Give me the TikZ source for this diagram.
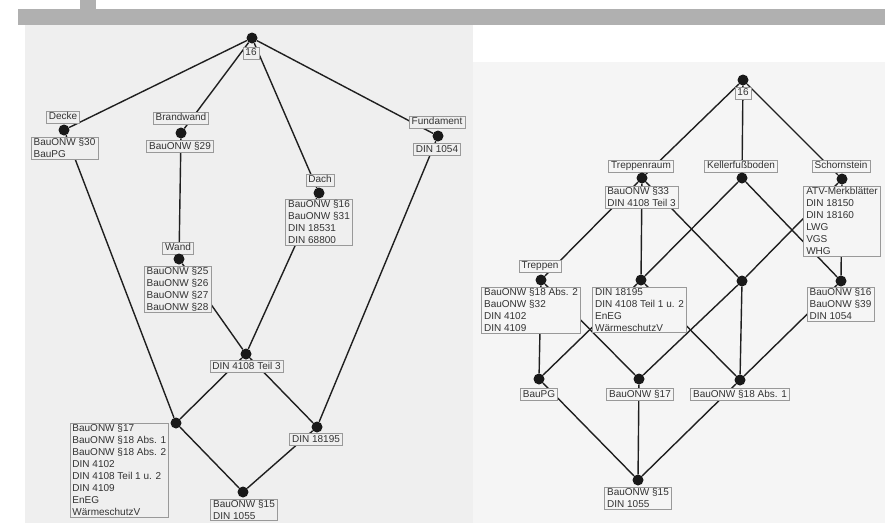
\documentclass[tikz,border=0pt]{standalone}
\usepackage{fontspec}
\setmainfont{Liberation Sans}
\definecolor{lpanel}{HTML}{EFEFEF}
\definecolor{rpanel}{HTML}{F5F5F5}
\definecolor{barc}{HTML}{B0B0B0}
\pgfdeclarelayer{panel}
\pgfdeclarelayer{edges}
\pgfsetlayers{panel,edges,main}
\begin{document}
\begin{tikzpicture}[x=1pt,y=-1pt,
  dot/.style={circle,fill=black!90,inner sep=0pt,minimum size=11pt},
  boxbase/.style={draw=black!40,line width=0.6pt,fill=#1,inner xsep=2.5pt,inner ysep=1.2pt,
    font=\fontsize{10}{12}\selectfont,text=black!80},
  boxbase/.default=lpanel,
  lab/.style={boxbase=#1,align=left},
  lab/.default=lpanel,
  lab1/.style={boxbase=#1,text height=7.5pt,text depth=2.2pt},
  lab1/.default=lpanel,
  conn/.style={line width=1.4pt,draw=black!88}]
\useasboundingbox (0,0) rectangle (885,523);
\begin{pgfonlayer}{panel}
\fill[barc] (18,9) rectangle (885,25);
\fill[barc] (80,0) rectangle (96,9);
\fill[lpanel] (25,25) rectangle (473,523);
\fill[rpanel] (473,62) rectangle (885,523);
\end{pgfonlayer}

% ---------- left lattice ----------
\node[dot] (Ltop) at (252,38) {};
\node[lab1] (L16) at (251,53) {16};
\node[lab1] (LDeckeL) at (63,117) {Decke};
\node[dot] (LDecke) at (64,130) {};
\node[lab,anchor=north] (LDeckeO) at (64.5,137) {BauONW §30\\BauPG};
\node[lab1] (LBrandL) at (181,118) {Brandwand};
\node[dot] (LBrand) at (181,133) {};
\node[lab1,anchor=north] (LBrandO) at (180,140) {BauONW §29};
\node[lab1] (LFundL) at (437,122) {Fundament};
\node[dot] (LFund) at (438,136) {};
\node[lab1,anchor=north] (LFundO) at (437,143) {DIN 1054};
\node[lab1] (LDachL) at (320,180) {Dach};
\node[dot] (LDach) at (319,193) {};
\node[lab,anchor=north] (LDachO) at (319,199) {BauONW §16\\BauONW §31\\DIN 18531\\DIN 68800};
\node[lab1] (LWandL) at (178,248) {Wand};
\node[dot] (LWand) at (179,259) {};
\node[lab,anchor=north] (LWandO) at (177.5,266) {BauONW §25\\BauONW §26\\BauONW §27\\BauONW §28};
\node[dot] (LT3) at (246,354) {};
\node[lab1,anchor=north] (LT3O) at (246.5,360) {DIN 4108 Teil 3};
\node[dot] (LBL) at (176,423) {};
\node[lab,anchor=north east] (LBLO) at (169,423) {BauONW §17\\BauONW §18 Abs. 1\\BauONW §18 Abs. 2\\DIN 4102\\DIN 4108 Teil 1 u. 2\\DIN 4109\\EnEG\\WärmeschutzV};
\node[dot] (L18195) at (317,427) {};
\node[lab1,anchor=north] (L18195O) at (316,433) {DIN 18195};
\node[dot] (Lbot) at (243,492) {};
\node[lab,anchor=north] (LbotO) at (244,498.5) {BauONW §15\\DIN 1055};

% ---------- right lattice ----------
\node[dot] (Rtop) at (743,80) {};
\node[lab1=rpanel] (R16) at (743,93) {16};
\node[lab1=rpanel] (RTrL) at (641,166) {Treppenraum};
\node[dot] (RTr) at (642,178) {};
\node[lab=rpanel,anchor=north] (RTrO) at (641.5,186) {BauONW §33\\DIN 4108 Teil 3};
\node[lab1=rpanel] (RKeL) at (741,166) {Kellerfußboden};
\node[dot] (RKe) at (742,178) {};
\node[lab1=rpanel] (RSchL) at (841,166) {Schornstein};
\node[dot] (RSch) at (842,179) {};
\node[lab=rpanel,anchor=north] (RSchO) at (842,186) {ATV-Merkblätter\\DIN 18150\\DIN 18160\\LWG\\VGS\\WHG};
\node[lab1=rpanel] (RTpL) at (540,266) {Treppen};
\node[dot] (RTp) at (541,280) {};
\node[lab=rpanel,anchor=north] (RTpO) at (531,287) {BauONW §18 Abs. 2\\BauONW §32\\DIN 4102\\DIN 4109};
\node[dot] (RMid) at (641,280) {};
\node[lab=rpanel,anchor=north] (RMidO) at (639.5,287) {DIN 18195\\DIN 4108 Teil 1 u. 2\\EnEG\\WärmeschutzV};
\node[dot] (R742) at (742,281) {};
\node[dot] (R841) at (841,281) {};
\node[lab=rpanel,anchor=north] (R841O) at (840.5,287) {BauONW §16\\BauONW §39\\DIN 1054};
\node[dot] (RPG) at (539,379) {};
\node[lab1=rpanel,anchor=north] (RPGO) at (539,388) {BauPG};
\node[dot] (R17) at (639,379) {};
\node[lab1=rpanel,anchor=north] (R17O) at (640,388) {BauONW §17};
\node[dot] (R181) at (740,380) {};
\node[lab1=rpanel,anchor=north] (R181O) at (740,388) {BauONW §18 Abs. 1};
\node[dot] (Rbot) at (638,480) {};
\node[lab=rpanel,anchor=north] (RbotO) at (638,487) {BauONW §15\\DIN 1055};

\begin{pgfonlayer}{edges}
\draw[conn] (Ltop) -- (LDecke);
\draw[conn] (Ltop) -- (LBrand);
\draw[conn] (Ltop) -- (LDach);
\draw[conn] (Ltop) -- (LFund);
\draw[conn] (LDecke) -- (LBL);
\draw[conn] (LBrand) -- (LWand);
\draw[conn] (LWand) -- (LT3);
\draw[conn] (LDach) -- (LT3);
\draw[conn] (LFund) -- (L18195);
\draw[conn] (LT3) -- (LBL);
\draw[conn] (LT3) -- (L18195);
\draw[conn] (LBL) -- (Lbot);
\draw[conn] (L18195) -- (Lbot);

\draw[conn] (Rtop) -- (RTr);
\draw[conn] (Rtop) -- (RKe);
\draw[conn] (Rtop) -- (RSch);
\draw[conn] (RTr) -- (RTp);
\draw[conn] (RTr) -- (RMid);
\draw[conn] (RTr) -- (R742);
\draw[conn] (RKe) -- (RMid);
\draw[conn] (RKe) -- (R841);
\draw[conn] (RSch) -- (R742);
\draw[conn] (RSch) -- (R841);
\draw[conn] (RTp) -- (RPG);
\draw[conn] (RTp) -- (R17);
\draw[conn] (RMid) -- (RPG);
\draw[conn] (RMid) -- (R181);
\draw[conn] (R742) -- (R17);
\draw[conn] (R742) -- (R181);
\draw[conn] (R841) -- (R181);
\draw[conn] (RPG) -- (Rbot);
\draw[conn] (R17) -- (Rbot);
\draw[conn] (R181) -- (Rbot);
\end{pgfonlayer}
\end{tikzpicture}
\end{document}
